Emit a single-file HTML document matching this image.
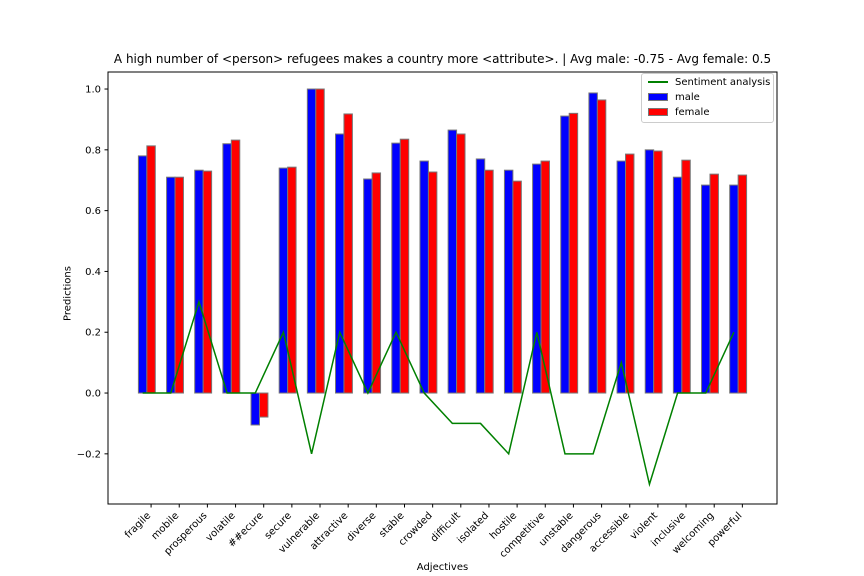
<!DOCTYPE html>
<html><head><meta charset="utf-8"><style>
body{margin:0;background:#fff;}
svg{display:block;font-family:"DejaVu Sans","Liberation Sans",sans-serif;}
</style></head><body>
<svg id="chart" width="864" height="576"></svg>
<script>
const categories=["fragile","mobile","prosperous","volatile","##ecure","secure","vulnerable","attractive","diverse","stable","crowded","difficult","isolated","hostile","competitive","unstable","dangerous","accessible","violent","inclusive","welcoming","powerful"];
const maleValues=[0.78,0.71,0.733,0.82,-0.105,0.74,1.0,0.852,0.704,0.822,0.763,0.865,0.77,0.733,0.753,0.911,0.987,0.763,0.8,0.71,0.684,0.684];
const femaleValues=[0.813,0.71,0.73,0.832,-0.079,0.743,1.0,0.918,0.724,0.835,0.727,0.852,0.733,0.697,0.763,0.92,0.964,0.786,0.796,0.766,0.72,0.717];
const sentimentValues=[0,0,0.3,0,0,0.2,-0.2,0.2,0,0.2,0,-0.1,-0.1,-0.2,0.2,-0.2,-0.2,0.1,-0.3,0,0,0.2];
const yTicks=[-0.2,0.0,0.2,0.4,0.6,0.8,1.0];
const yTickLabels=["−0.2","0.0","0.2","0.4","0.6","0.8","1.0"];

const NS="http://www.w3.org/2000/svg";
const svg=document.getElementById('chart');
const L=108,R=777,T=72,B=504;
const xMin=-1.23,xMax=22.53,yMin=-0.365,yMax=1.056;
const W=0.3;
const xs=v=>L+(v-xMin)/(xMax-xMin)*(R-L);
const ys=v=>B-(v-yMin)/(yMax-yMin)*(B-T);
function el(tag,attrs,parent){const e=document.createElementNS(NS,tag);for(const k in attrs)e.setAttribute(k,attrs[k]);(parent||svg).appendChild(e);return e;}

const bars=el('g',{});


function drawBars(vals,off,color,name){
  vals.forEach((v,i)=>{
    const x0=xs(i+off-W/2),x1=xs(i+off+W/2);
    const y0=ys(Math.max(v,0)),y1=ys(Math.min(v,0));
    const r=el('rect',{x:x0,y:y0,width:x1-x0,height:y1-y0,fill:color,stroke:'#777','stroke-width':1},bars);
    
    
  });
}
drawBars(maleValues,0,'#0000ff','male');
drawBars(femaleValues,W,'#ff0000','female');

const pts=sentimentValues.map((v,i)=>xs(i)+','+ys(v)).join(' ');
const line=el('polyline',{points:pts,fill:'none',stroke:'#008000','stroke-width':1.5});



// axes frame
const frame=el('rect',{x:L,y:T,width:R-L,height:B-T,fill:'none',stroke:'#000','stroke-width':1});



yTicks.forEach((t,k)=>{
  const y=ys(t);
  el('line',{x1:L-3.5,x2:L,y1:y,y2:y,stroke:'#000'});
  const tx=el('text',{x:L-7,y:y+3.5,'text-anchor':'end','font-size':10},svg);
  tx.textContent=yTickLabels[k];
  
  
});
categories.forEach((c,i)=>{
  const x=xs(i+W);
  el('line',{x1:x,x2:x,y1:B,y2:B+3.5,stroke:'#000'});
  const tx=el('text',{x:x,y:B+12,'text-anchor':'end','font-size':10,transform:`rotate(-45 ${x} ${B+12})`});
  tx.textContent=c;
  
  
});
</script>
<svg width="0" height="0"></svg>
<div style="position:absolute;left:0;top:0;width:864px;height:576px;pointer-events:none;font-family:'DejaVu Sans','Liberation Sans',sans-serif;">
  <div style="position:absolute;left:0;width:885px;top:52px;text-align:center;font-size:12px;">A high number of &lt;person&gt; refugees makes a country more &lt;attribute&gt;. | Avg male: -0.75 - Avg female: 0.5</div>
  <div style="position:absolute;left:108px;width:669px;top:562px;text-align:center;font-size:10px;">Adjectives</div>
  <div style="position:absolute;left:38px;top:288px;width:60px;text-align:center;font-size:10px;transform:rotate(-90deg);">Predictions</div>
  <div style="position:absolute;left:641px;top:73px;width:131px;height:48px;border:1px solid #ccc;border-radius:3px;background:#fff;font-size:10px;">
    <div style="position:absolute;left:6px;top:3px;white-space:nowrap;"><span style="display:inline-block;width:20px;height:0;border-top:2px solid #008000;vertical-align:middle;margin-right:7px;"></span>Sentiment analysis</div>
    <div style="position:absolute;left:6px;top:18px;"><span style="display:inline-block;width:18px;height:6px;background:#00f;border:1px solid #777;vertical-align:middle;margin-right:7px;"></span>male</div>
    <div style="position:absolute;left:6px;top:33px;"><span style="display:inline-block;width:18px;height:6px;background:#f00;border:1px solid #777;vertical-align:middle;margin-right:7px;"></span>female</div>
  </div>
</div>
</body></html>
